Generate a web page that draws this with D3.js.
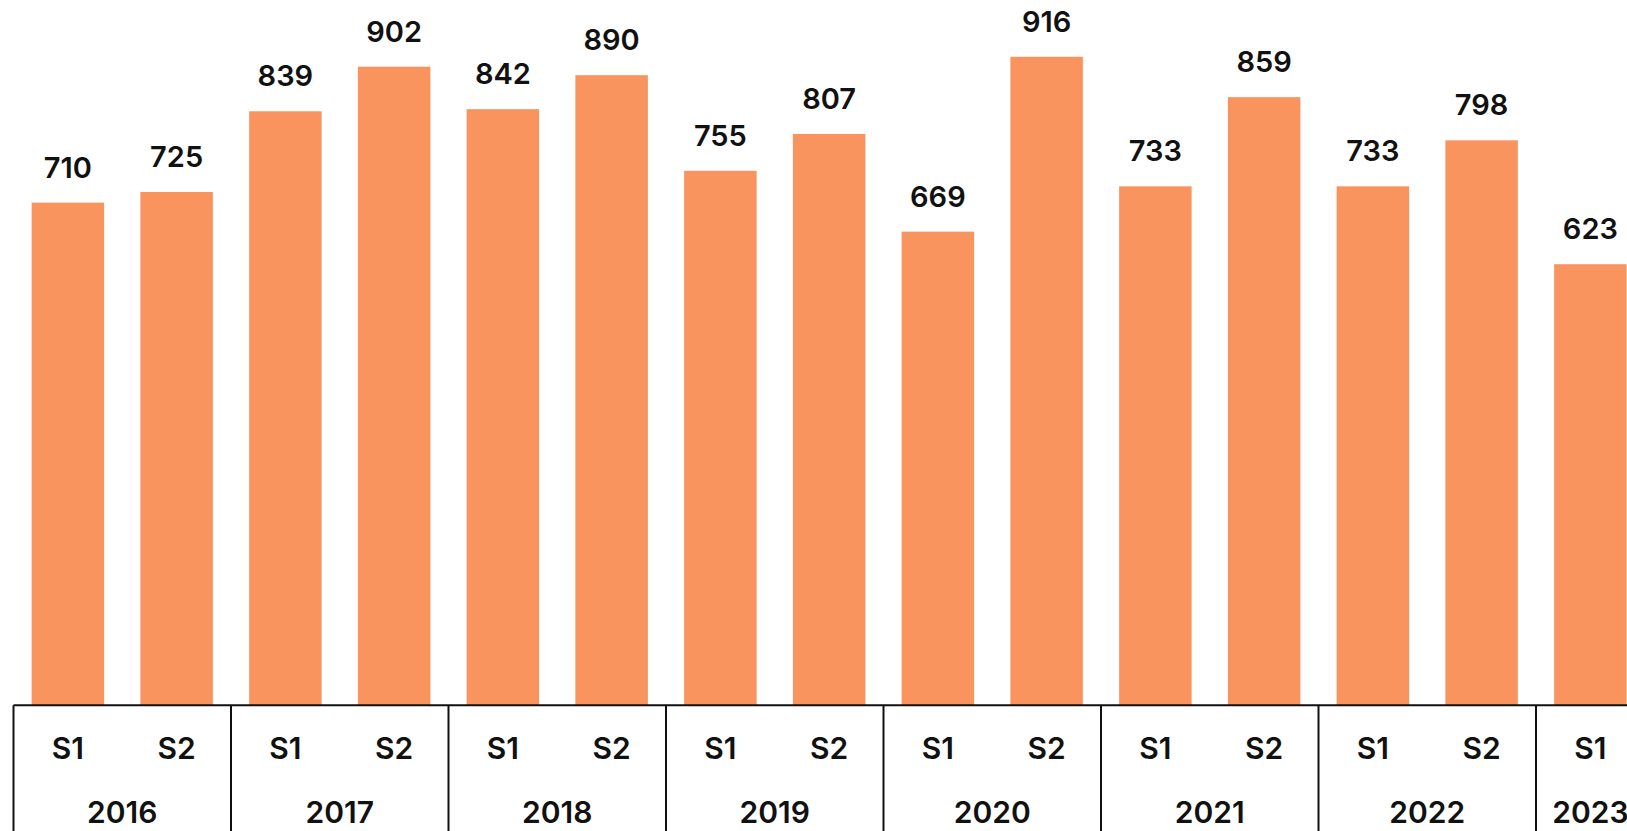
<!DOCTYPE html>
<html>
<head>
<meta charset="utf-8">
<script src="https://cdn.jsdelivr.net/npm/d3@7"></script>
<style>
  html, body { margin: 0; padding: 0; background: #fff; overflow: hidden; }
  svg { display: block; font-family: Inter, "Open Sans", sans-serif; }
</style>
</head>
<body>
<svg id="chart" width="1627" height="831"></svg>
<script>
// Half-year totals, S1/S2 per year
const years = ["2016", "2017", "2018", "2019", "2020", "2021", "2022", "2023"];
const halves = ["S1", "S2", "S1", "S2", "S1", "S2", "S1", "S2", "S1", "S2", "S1", "S2", "S1", "S2", "S1"];
const halfYears = ["2016", "2016", "2017", "2017", "2018", "2018", "2019", "2019", "2020", "2020", "2021", "2021", "2022", "2022", "2023"];
const values = [710, 725, 839, 902, 842, 890, 755, 807, 669, 916, 733, 859, 733, 798, 623];

const rows = values.map((v, i) => ({ key: halfYears[i] + "-" + halves[i], year: halfYears[i], half: halves[i], value: v }));

const svg = d3.select("#chart");
const left = 13.5, step = 108.75;
const baseY = 705.3;

const x = d3.scaleBand()
  .domain(rows.map(d => d.key))
  .range([left, left + step * rows.length])
  .paddingInner(1 / 3)
  .paddingOuter(1 / 6);

const y = d3.scaleLinear().domain([0, 1000]).range([baseY, baseY - 708]);

// bars
svg.append("g").selectAll("rect").data(rows).join("rect")
  .attr("x", d => x(d.key))
  .attr("width", x.bandwidth())
  .attr("y", d => y(d.value))
  .attr("height", d => y(0) - y(d.value))
  .attr("fill", "#FA945E");

// value labels
svg.append("g").selectAll("text").data(rows).join("text")
  .attr("x", d => x(d.key) + x.bandwidth() / 2)
  .attr("y", d => y(d.value) - 25)
  .attr("text-anchor", "middle")
  .attr("font-size", 29)
  .attr("font-weight", 600)
  .attr("fill", "#111")
  .text(d => d.value);

// baseline
svg.append("line")
  .attr("x1", left).attr("x2", 1627)
  .attr("y1", baseY).attr("y2", baseY)
  .attr("stroke", "#111").attr("stroke-width", 2);

// year group boundaries
const groups = years.map(yr => {
  const ks = rows.filter(d => d.year === yr);
  const start = x(ks[0].key) - x.step() * x.paddingInner() / 2;
  return { year: yr, start, end: start + ks.length * x.step() };
});

svg.append("g").selectAll("line").data(groups).join("line")
  .attr("x1", d => d.start).attr("x2", d => d.start)
  .attr("y1", baseY).attr("y2", 831)
  .attr("stroke", "#111").attr("stroke-width", 2);

// half-year labels
svg.append("g").selectAll("text").data(rows).join("text")
  .attr("x", d => x(d.key) + x.bandwidth() / 2)
  .attr("y", 759)
  .attr("text-anchor", "middle")
  .attr("font-size", 30)
  .attr("font-weight", 600)
  .attr("fill", "#111")
  .text(d => d.half);

// year labels
svg.append("g").selectAll("text").data(groups).join("text")
  .attr("x", d => (d.start + d.end) / 2)
  .attr("y", 823)
  .attr("text-anchor", "middle")
  .attr("font-size", 30)
  .attr("font-weight", 600)
  .attr("fill", "#111")
  .text(d => d.year);
</script>
</body>
</html>
